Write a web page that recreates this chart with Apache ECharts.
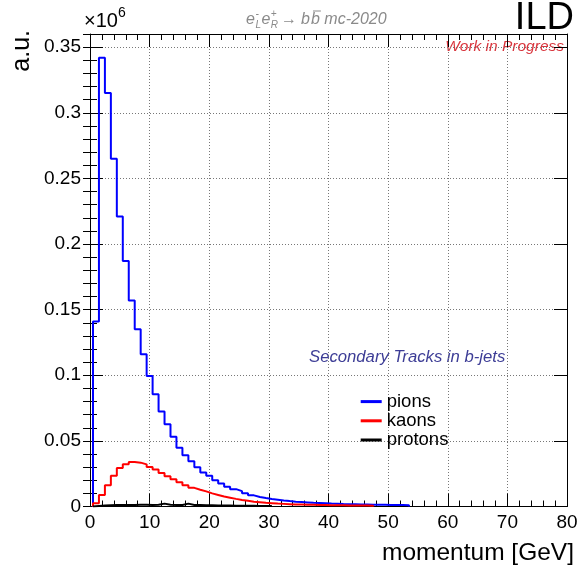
<!DOCTYPE html>
<html><head><meta charset="utf-8">
<script src="https://cdn.jsdelivr.net/npm/echarts@6/dist/echarts.min.js"></script>
<style>html,body{margin:0;padding:0;background:#fff}#c{width:581px;height:569px}</style>
</head><body><div id="c"></div>
<script>
// ---- data (values in units of 1e6, 1 GeV bins, first bin centred at 1 GeV) ----
const firstBinCenter = 1;
const binWidth = 1;
const seriesNames = ['pions', 'kaons', 'protons'];
const pions = [0.141,0.342,0.315,0.265,0.221,0.187,0.157,0.135,0.116,0.0995,
  0.0855,0.0723,0.0627,0.0532,0.0448,0.039,0.0345,0.030,0.026,0.0235,
  0.020,0.0175,0.015,0.0132,0.0117,0.0101,0.0085,0.0073,0.0065,0.0058,
  0.0052,0.0046,0.0041,0.0037,0.0034,0.0031,0.0028,0.0026,0.0024,0.0022,
  0.0021,0.0019,0.0018,0.0017,0.0016,0.0015,0.0014,0.0013,0.0013,0.0012,
  0.0011,0.0011,0.0010];
const kaons = [0.0024,0.0088,0.0161,0.0235,0.0293,0.0321,0.0339,0.0334,0.0321,0.0301,
  0.0281,0.0256,0.0231,0.0208,0.0185,0.0162,0.0142,0.0128,0.0115,0.0100,
  0.0088,0.0076,0.0067,0.0058,0.0050,0.0043,0.0036,0.0032,0.0028,0.0025,
  0.0022,0.0020,0.0018,0.0016,0.0015,0.0014,0.0013,0.0012,0.0011,0.0010,
  0.0009,0.0009,0.0008,0.0008,0.0007,0.0007,0.0006];
const protons = [0.0004,0.0008,0.0010,0.0011,0.0012,0.0012,0.0012,0.0013,0.0013,0.0012,
  0.0014,0.0022,0.0014,0.0012,0.0012,0.0022,0.0012,0.0011,0.0010,0.0009,
  0.0008,0.0008,0.0007,0.0006,0.0006,0.0005,0.0005,0.0004,0.0004,0.0003];
const xTicks = {min: 0, max: 80, interval: 10};
const yTicks = {min: 0, max: 0.36, interval: 0.05, minor: 0.01};
const colors = ['#0000ff', '#ff0000', '#000000'];

const FONT = '"Liberation Sans", Arial, Helvetica, sans-serif';

function histPoints(vals) {
  const pts = [[firstBinCenter - binWidth / 2, 0]];
  vals.forEach((v, i) => pts.push([firstBinCenter + i * binWidth - binWidth / 2, v]));
  const end = firstBinCenter + vals.length * binWidth - binWidth / 2;
  pts.push([end, vals[vals.length - 1]]);
  pts.push([end, 0]);
  return pts;
}

const measureCtx = document.createElement('canvas').getContext('2d');
function tw(text, font) { measureCtx.font = font; return measureCtx.measureText(text).width; }

const chart = echarts.init(document.getElementById('c'), null, {renderer: 'canvas'});

const lineAxis = {show: true, onZero: false, lineStyle: {color: '#000', width: 1}};
const majorTick = {show: true, inside: true, length: 13, lineStyle: {color: '#000', width: 1}};
const dotted = {show: true, lineStyle: {type: [1, 2], color: '#777', width: 1}};

function xAxisDef(pos, main) {
  return {
    type: 'value', position: pos, min: xTicks.min, max: xTicks.max, interval: xTicks.interval,
    axisLine: lineAxis, axisTick: majorTick,
    minorTick: {show: true, splitNumber: 5, length: 6, lineStyle: {color: '#000', width: 1}},
    splitLine: main ? dotted : {show: false},
    minorSplitLine: {show: false},
    axisLabel: main ? {show: true, color: '#000', fontSize: 19, fontFamily: FONT, margin: 7} : {show: false}
  };
}
function yAxisMajor(pos, main) {
  return {
    type: 'value', position: pos, min: yTicks.min, max: yTicks.max, interval: yTicks.interval,
    axisLine: lineAxis, axisTick: majorTick,
    splitLine: main ? dotted : {show: false},
    axisLabel: main ? {show: true, color: '#000', fontSize: 19, fontFamily: FONT, margin: 9,
      formatter: v => (Math.abs(Math.round(v / yTicks.interval) * yTicks.interval - v) < 1e-9 ? String(+v.toFixed(2)) : '')} : {show: false}
  };
}
function yAxisMinor(pos) {
  return {
    type: 'value', position: pos, min: yTicks.min, max: yTicks.max, interval: yTicks.minor,
    axisLine: {show: false}, axisTick: {show: true, inside: true, length: 7, lineStyle: {color: '#000', width: 1}},
    splitLine: {show: false}, axisLabel: {show: false}
  };
}

// title text pieces: e_L^- e_R^+ -> b bbar mc-2020
const titleColor = '#8a8a8a';
const fMain = 'italic 16px ' + FONT;
const fSmall = 'italic 10px ' + FONT;
const fArrow = '16px ' + FONT;
const tY = 20;
const graphics = [];
let cx = 246;
function put(text, font, x, y, color) {
  graphics.push({type: 'text', x: x, y: y, silent: true,
    style: {text: text, font: font, fill: color, align: 'left', verticalAlign: 'middle'}});
}
put('e', fMain, cx, tY, titleColor); cx += tw('e', fMain) + 0.5;
put('-', fSmall, cx, tY - 6, titleColor); put('L', fSmall, cx, tY + 5, titleColor); cx += tw('L', fSmall) + 0.5;
put('e', fMain, cx, tY, titleColor); cx += tw('e', fMain) + 0.5;
put('+', fSmall, cx, tY - 6, titleColor); put('R', fSmall, cx, tY + 5, titleColor); cx += tw('R', fSmall) + 3;
put('\u2192', fArrow, cx, tY, titleColor); cx += tw('\u2192', fArrow) + 4;
put('b', fMain, cx, tY, titleColor); cx += tw('b', fMain) + 1;
put('b', fMain, cx, tY, titleColor);
graphics.push({type: 'line', silent: true, shape: {x1: cx + 2, y1: tY - 9, x2: cx + tw('b', fMain) + 1, y2: tY - 9},
  style: {stroke: titleColor, lineWidth: 1}});
cx += tw('b', fMain);
put(' mc-2020', fMain, cx, tY, titleColor);

// x10^6
graphics.push({type: 'text', x: 84, y: 21, silent: true, style: {text: '\u00d710', font: '20px ' + FONT, fill: '#000', align: 'left', verticalAlign: 'middle'}});
graphics.push({type: 'text', x: 84 + tw('\u00d710', '20px ' + FONT), y: 13, silent: true, style: {text: '6', font: '14px ' + FONT, fill: '#000', align: 'left', verticalAlign: 'middle'}});
// ILD
graphics.push({type: 'text', x: 574, y: 19, silent: true, style: {text: 'ILD', font: '38px ' + FONT, fill: '#000', align: 'right', verticalAlign: 'middle'}});
// Work in Progress
graphics.push({type: 'text', x: 564, y: 47, silent: true, style: {text: 'Work in Progress', font: 'italic 15.5px ' + FONT, fill: '#d9363e', align: 'right', verticalAlign: 'middle'}});
// Secondary Tracks in b-jets
graphics.push({type: 'text', x: 309, y: 357, silent: true, style: {text: 'Secondary Tracks in b-jets', font: 'italic 16.7px ' + FONT, fill: '#3d3d96', align: 'left', verticalAlign: 'middle'}});
// axis titles
graphics.push({type: 'text', x: 574, y: 553, silent: true, style: {text: 'momentum [GeV]', font: '24.5px ' + FONT, fill: '#000', align: 'right', verticalAlign: 'middle'}});
graphics.push({type: 'text', x: 22, y: 30, rotation: Math.PI / 2, silent: true, style: {text: 'a.u.', font: '25px ' + FONT, fill: '#000', align: 'right', verticalAlign: 'middle'}});

const data = [pions, kaons, protons];
chart.setOption({
  animation: false,
  color: colors,
  grid: {left: 90, right: 14, top: 34, bottom: 62.5, containLabel: false},
  xAxis: [xAxisDef('bottom', true), xAxisDef('top', false)],
  yAxis: [yAxisMajor('left', true), yAxisMinor('left'), yAxisMajor('right', false), yAxisMinor('right')],
  legend: {
    data: seriesNames, orient: 'vertical', left: 360.7, top: 392, itemWidth: 21, itemHeight: 3, itemGap: 0,
    icon: 'rect', padding: 0, selectedMode: false,
    textStyle: {fontSize: 18.5, fontFamily: FONT, color: '#000', lineHeight: 19.2}
  },
  series: seriesNames.map((n, i) => ({
    name: n, type: 'line', step: 'end', xAxisIndex: 0, yAxisIndex: 0,
    data: histPoints(data[i]), symbol: 'none', showSymbol: false,
    lineStyle: {width: 2, color: colors[i]}, itemStyle: {color: colors[i]}, z: 3 + i
  })),
  graphic: graphics
});
</script>
</body></html>
